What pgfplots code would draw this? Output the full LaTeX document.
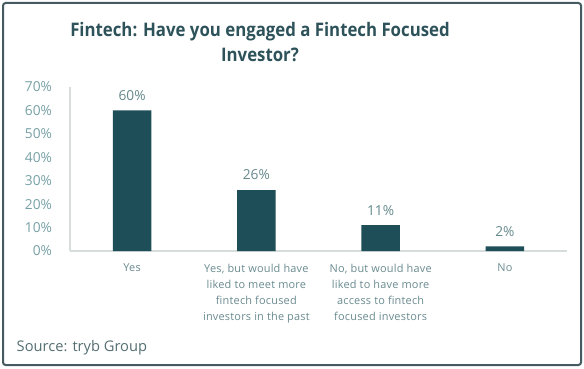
\documentclass[border=0pt]{standalone}
\usepackage{pgfplots}
\pgfplotsset{compat=1.18}
\usepackage{fontspec}
\setmainfont{Open Sans}
\newfontfamily\titlefont[FakeStretch=0.9]{Open Sans}
\newfontfamily\catfont[LetterSpace=2]{Open Sans}
\definecolor{barc}{RGB}{30,78,88}
\definecolor{titlec}{RGB}{45,82,90}
\definecolor{tickc}{RGB}{118,160,165}
\definecolor{catc}{RGB}{105,138,143}
\definecolor{borderc}{RGB}{70,90,95}
\definecolor{axc}{RGB}{215,220,220}
\begin{document}
\begin{tikzpicture}[x=0.75pt,y=0.75pt]
\path[use as bounding box] (0,0) rectangle (584,368);
\draw[borderc,line width=1.5pt,rounded corners=2pt] (3,3) rectangle (581,365);
\node[font=\titlefont\bfseries\fontsize{14}{19}\selectfont,text=titlec,align=center] at (260,326) {Fintech: Have you engaged a Fintech Focused\\Investor?};
\node[font=\fontsize{11}{13}\selectfont,text=catc!80!black,anchor=west] at (12,20) {Source: tryb Group};
\begin{axis}[
  at={(52.5pt,87.75pt)}, anchor=south west,
  scale only axis, width=372.75pt, height=123pt,
  xmin=-0.5, xmax=3.5, ymin=0, ymax=70,
  ybar, bar width=29pt,
  axis x line*=bottom, axis y line*=left,
  axis line style={axc, line width=0.8pt},
  xtick={0,1,2,3},
  xticklabels={Yes, {Yes, but would have\\liked to meet more\\fintech focused\\investors in the past}, {No, but would have\\liked to have more\\access to fintech\\focused investors}, No},
  xticklabel style={align=center, anchor=north, text=catc, font=\catfont\fontsize{8.2}{12}\selectfont, yshift=-6pt},
  ytick={0,10,...,70},
  yticklabel={\pgfmathprintnumber{\tick}\%},
  yticklabel style={text=tickc, font=\fontsize{10.3}{12}\selectfont, xshift=-10pt},
  /pgf/number format/assume math mode=true,
  major tick length=0pt,
  nodes near coords={\pgfmathprintnumber{\pgfplotspointmeta}\%},
  nodes near coords style={text=tickc!85!black, font=\fontsize{10.3}{12}\selectfont, yshift=4pt},
  clip=false,
]
\addplot[fill=barc, draw=none] coordinates {(0,60) (1,26) (2,11) (3,2)};
\end{axis}
\end{tikzpicture}
\end{document}
